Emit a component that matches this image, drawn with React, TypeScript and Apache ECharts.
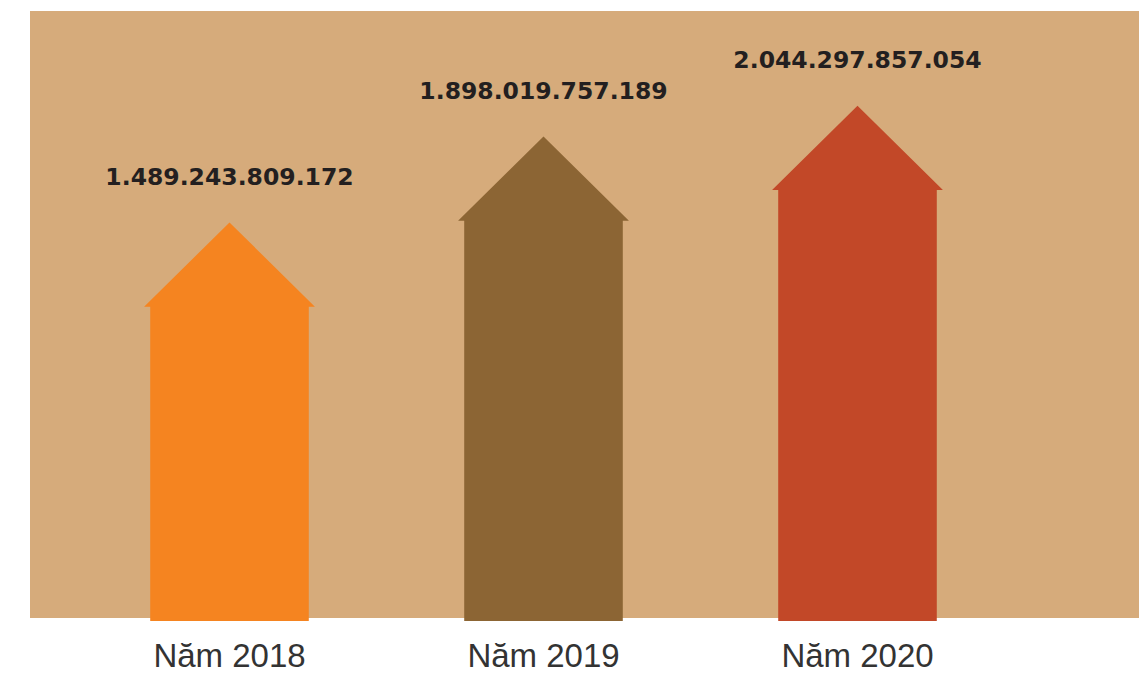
import React, { useEffect, useRef } from "react";
import * as echarts from "echarts";

const categories = ["Năm 2018", "Năm 2019", "Năm 2020"];
const values = [1489243809172, 1898019757189, 2044297857054];
const valueLabels = ["1.489.243.809.172", "1.898.019.757.189", "2.044.297.857.054"];
const colors = ["#F58420", "#8C6534", "#C24828"];

export default function App() {
  const ref = useRef<HTMLDivElement>(null);
  useEffect(() => {
    document.body.style.margin = "0";
    document.body.style.overflow = "hidden";
    const chart = echarts.init(ref.current!, null, { renderer: "svg" });
    chart.setOption({
      animation: false,
      backgroundColor: "#ffffff",
      graphic: [
        {
          type: "rect",
          z: -10,
          silent: true,
          shape: { x: 30, y: 11, width: 1109, height: 607 },
          style: { fill: "#D6AB7B" },
        },
      ],
      grid: { left: 72.5, right: 133.5, top: 94, bottom: 53, outerBoundsMode: "none", containLabel: false },
      xAxis: {
        type: "category",
        data: categories,
        axisLine: { show: false },
        axisTick: { show: false },
        axisLabel: {
          color: "#333333",
          fontSize: 33,
          fontFamily: "Liberation Sans",
          margin: 19,
        },
      },
      yAxis: { type: "value", min: 0, max: 2500000000000, show: false, splitLine: { show: false } },
      series: [
        {
          type: "custom",
          z: 5,
          data: values.map((v, i) => [i, v]),
          renderItem: (params: any, api: any) => {
            const i = api.value(0);
            const v = api.value(1);
            const top = api.coord([i, v]);
            const base = api.coord([i, 0]);
            const band = api.size([1, 0])[0];
            const cx = top[0];
            const bw = band * 0.505;
            const hw = band * 0.272;
            const hh = band * 0.268;
            const bodyTop = top[1];
            const apex = bodyTop - hh;
            const pts = [
              [cx - bw / 2, base[1] + 1],
              [cx - bw / 2, bodyTop],
              [cx - hw, bodyTop],
              [cx, apex],
              [cx + hw, bodyTop],
              [cx + bw / 2, bodyTop],
              [cx + bw / 2, base[1] + 1],
            ];
            return {
              type: "group",
              children: [
                {
                  type: "polygon",
                  shape: { points: pts },
                  style: { fill: colors[params.dataIndex] },
                },
                {
                  type: "text",
                  x: cx,
                  y: apex - 46,
                  style: {
                    text: valueLabels[params.dataIndex],
                    fill: "#231F20",
                    font: "bold 23.5px 'DejaVu Sans'",
                    align: "center",
                    verticalAlign: "middle",
                  },
                },
              ],
            };
          },
        },
      ],
    });
    return () => chart.dispose();
  }, []);
  return <div ref={ref} style={{ width: 1148, height: 673 }} />;
}
